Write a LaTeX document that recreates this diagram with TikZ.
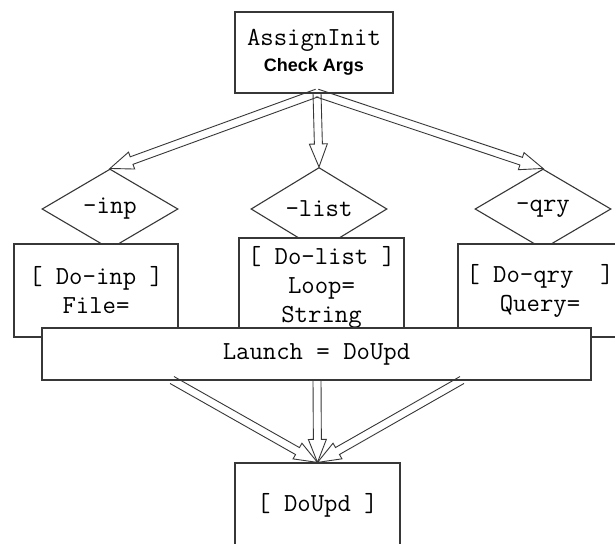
\documentclass[tikz,border=0pt]{standalone}
\usepackage{fontspec}
\newfontfamily\sansf{Liberation Sans}
\usetikzlibrary{shapes.geometric,calc}

\definecolor{ink}{RGB}{55,55,55}

\tikzset{
  box/.style={draw=ink, line width=1.2pt, fill=white, inner sep=0pt, align=center,
    font=\ttfamily\fontsize{26}{29}\selectfont},
  choice/.style={diamond, draw=ink, line width=1.1pt, fill=white, inner sep=0pt,
    minimum width=136pt, minimum height=80pt, font=\ttfamily\fontsize{26}{29}\selectfont},
  arrowline/.style={draw=ink, line width=0.9pt, line join=miter}
}

% hollow block arrow from #1 (tail) to #2 (tip)
\newcommand\blockarrow[2]{%
  \coordinate (neck) at ($(#2)!23pt!(#1)$);
  \draw[arrowline] ($(#1)!4pt!90:(#2)$) -- ($(neck)!4pt!90:(#2)$)
    -- ($(neck)!9pt!90:(#2)$) -- (#2) -- ($(neck)!9pt!-90:(#2)$)
    -- ($(neck)!4pt!-90:(#2)$) -- ($(#1)!4pt!-90:(#2)$);
}

\begin{document}
\begin{tikzpicture}[x=1pt, y=-1pt]
\useasboundingbox[fill=white] (0,0) rectangle (615,543);

% start box
\node[box, minimum width=158pt, minimum height=81pt] (init) at (314,52.5)
  {AssignInit\\[-3pt]{\sansf\bfseries\fontsize{18}{22}\selectfont Check Args}};
\coordinate (fork) at (317,93);

% option tests
\node[choice] (inp) at (110,209) {-inp};
\node[choice] (lst) at (319,209) {-list};
\node[choice] (qry) at (543,209) {-qry};

\blockarrow{fork}{inp.north}
\blockarrow{fork}{lst.north}
\blockarrow{fork}{qry.north}

% handlers
\node[box, minimum width=164pt, minimum height=93pt] (doinp) at (96,290.5)
  {[ Do-inp ]\\File=};
\node[box, minimum width=165pt, minimum height=99pt] (dolst) at (321.5,287.5)
  {[ Do-list ]\\Loop=\\String};
\node[box, minimum width=164pt, minimum height=93pt] (doqry) at (540,290.5)
  {[ Do-qry~ ]\\Query=};

% launch bar
\node[box, minimum width=549pt, minimum height=52pt] (launch) at (316.5,354)
  {Launch = DoUpd};

% final step
\node[box, minimum width=165pt, minimum height=85pt] (doupd) at (317.5,505.5)
  {[ DoUpd ]};

\coordinate (l1) at (172,380);
\coordinate (l2) at (317,380);
\coordinate (l3) at (462,380);
\blockarrow{l1}{doupd.north}
\blockarrow{l2}{doupd.north}
\blockarrow{l3}{doupd.north}
\end{tikzpicture}
\end{document}
